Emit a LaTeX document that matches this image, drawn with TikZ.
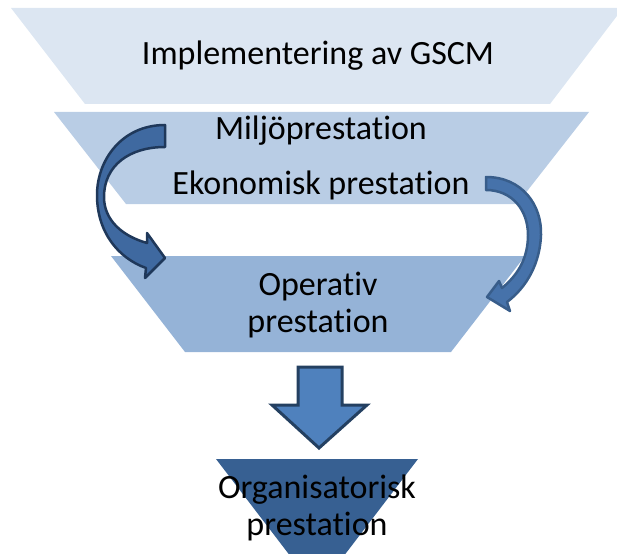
\documentclass[tikz,border=0pt]{standalone}
\usepackage{fontspec}
\setmainfont{Carlito}[Ligatures=NoCommon]
\usepackage{xcolor}
\usetikzlibrary{positioning}

\definecolor{level1}{RGB}{220,230,242}
\definecolor{level2}{RGB}{185,205,229}
\definecolor{level3}{RGB}{149,179,215}
\definecolor{level4}{RGB}{55,96,146}
\definecolor{arrowfill}{RGB}{79,129,189}
\definecolor{arrowline}{RGB}{36,64,97}
\definecolor{leftfill}{RGB}{63,105,160}
\definecolor{leftline}{RGB}{31,56,90}
\definecolor{rightfill}{RGB}{70,114,170}
\definecolor{rightline}{RGB}{56,93,138}

\begin{document}
\begin{tikzpicture}[x=1pt, y=-1pt, >=stealth,
    layer text/.style={font=\fontsize{34}{37}\selectfont, align=center, inner sep=0pt},
    bend arrow/.style={line width=2.5pt, line join=round},
    block arrow/.style={draw=arrowline, fill=arrowfill, line width=3pt, line join=miter}]

    \clip (0,0) rectangle (617,553);

    % funnel levels
    \foreach \lt/\rt/\lb/\rb/\yt/\yb [count=\i] in {11/623/85/550/8/104, 54/589/126/517/112/204, 111/525/185/451/256/352}
      \fill [level\i] (\lt,\yt) -- (\rt,\yt) -- (\rb,\yb) -- (\lb,\yb) -- cycle;

    \fill [level4] (216,459) -- (418,459) -- (317,591) -- cycle;

    % labels (base = last line)
    \node [layer text, anchor=base] (impl) at (318,65) {Implementering av GSCM};
    \node [layer text, anchor=base] (milj) at (321,140) {Miljöprestation};
    \node [layer text, anchor=base] (ekon) at (321,194) {Ekonomisk prestation};
    \node [layer text, anchor=base] (oper) at (318,332) {Operativ\\prestation};
    \node [layer text, anchor=base] (org) at (317,535) {Organisatorisk\\prestation};

    % curved arrows
    \draw [bend arrow, draw=leftline, fill=leftfill] (165,125)
      .. controls (122,125) and (97,160) .. (97,195)
      .. controls (97,232) and (118,258) .. (146,268)
      -- (145,278) -- (165,258) -- (147,233) -- (147,243)
      .. controls (122,236) and (104,220) .. (104,197)
      .. controls (104,165) and (130,147) .. (165,147) -- cycle;

    \draw [bend arrow, draw=rightline, fill=rightfill] (486,177)
      .. controls (522,177) and (542,205) .. (541,235)
      .. controls (540,263) and (527,287) .. (507,302)
      -- (510,311) -- (487,297) -- (499,281) -- (502,288)
      .. controls (518,275) and (528,258) .. (528,235)
      .. controls (528,210) and (512,190) .. (486,190) -- cycle;

    % down arrow
    \draw [block arrow] (298,367) -- (342,367) -- (342,405) -- (367,405)
      -- (319,448) -- (272,405) -- (298,405) -- cycle;
\end{tikzpicture}
\end{document}
